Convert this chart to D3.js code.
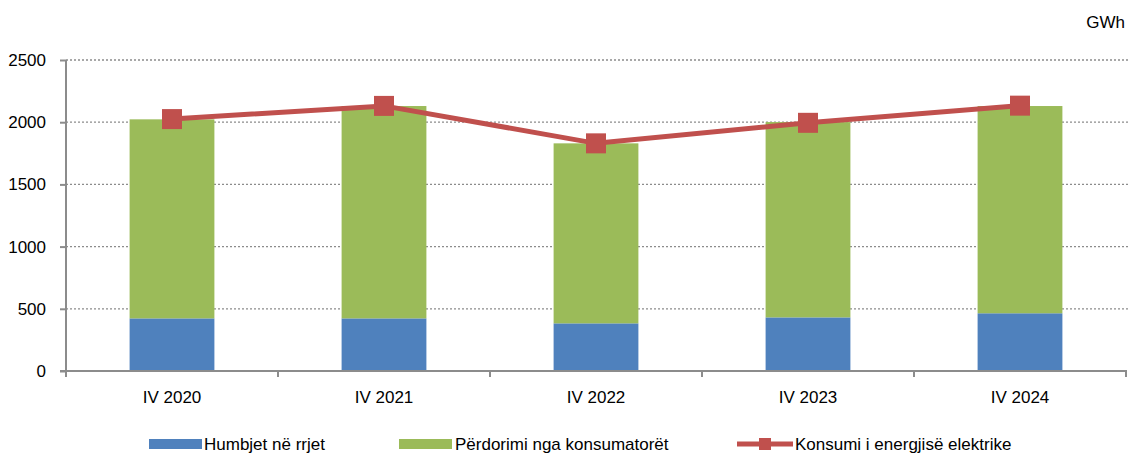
<!DOCTYPE html>
<html>
<head>
<meta charset="utf-8">
<script src="https://cdn.jsdelivr.net/npm/d3@7.9.0/dist/d3.min.js"></script>
<style>
  html, body { margin: 0; padding: 0; background: #fff; }
  svg text { font-family: "Liberation Sans", Arial, sans-serif; fill: #000; }
</style>
</head>
<body>
<div id="chart"></div>
<script>
// ---------------------- Data ----------------------
const quarters = ['IV 2020', 'IV 2021', 'IV 2022', 'IV 2023', 'IV 2024'];
const losses = [423, 423, 383, 431, 464];          // Humbjet në rrjet
const usage = [1600, 1707, 1447, 1570, 1666];      // Përdorimi nga konsumatorët
const consumption = [2025, 2131, 1830, 1995, 2133]; // Konsumi i energjisë elektrike
const yTicks = [0, 500, 1000, 1500, 2000, 2500];
const seriesNames = ['Humbjet në rrjet', 'Përdorimi nga konsumatorët', 'Konsumi i energjisë elektrike'];

const colors = { losses: '#4F81BD', usage: '#9BBB59', line: '#C0504D' };

// ---------------------- Chart ----------------------
const width = 1128;
const height = 457;
const plot = { left: 66, right: 1126, top: 60, bottom: 371 };

const svg = d3.select('#chart')
  .append('svg')
  .attr('width', width)
  .attr('height', height);

const xScale = d3.scaleBand()
  .domain(quarters)
  .range([plot.left, plot.right])
  .paddingInner(0.6)
  .paddingOuter(0.3);

const yScale = d3.scaleLinear()
  .domain([0, 2500])
  .range([plot.bottom, plot.top]);

// grid lines
svg.append('g')
  .selectAll('line')
  .data(yTicks.filter(d => d > 0))
  .join('line')
  .attr('x1', plot.left)
  .attr('x2', width)
  .attr('y1', d => yScale(d))
  .attr('y2', d => yScale(d))
  .attr('stroke', '#8c8c8c')
  .attr('stroke-width', 1.3)
  .attr('stroke-dasharray', '2,2');

// stacked bars
const rows = quarters.map((q, i) => ({ q, losses: losses[i], usage: usage[i] }));
const stack = d3.stack().keys(['losses', 'usage'])(rows);

svg.append('g')
  .selectAll('g')
  .data(stack)
  .join('g')
  .attr('fill', d => colors[d.key])
  .selectAll('rect')
  .data(d => d)
  .join('rect')
  .attr('x', d => xScale(d.data.q))
  .attr('width', xScale.bandwidth())
  .attr('y', d => yScale(d[1]))
  .attr('height', d => yScale(d[0]) - yScale(d[1]));

// y axis
const yAxis = svg.append('g')
  .attr('transform', `translate(${plot.left},0)`)
  .call(d3.axisLeft(yScale).tickValues(yTicks).tickFormat(d3.format('d'))
    .tickSize(6).tickPadding(14).tickSizeOuter(0));
yAxis.select('.domain').remove();
yAxis.append('line')
  .attr('x1', 0).attr('x2', 0)
  .attr('y1', plot.top).attr('y2', plot.bottom + 6)
  .attr('stroke', '#8c8c8c').attr('stroke-width', 2);
yAxis.selectAll('.tick line').attr('stroke', '#8c8c8c').attr('stroke-width', 2);
yAxis.selectAll('.tick text')
  .attr('font-size', 17)
  .style('font-family', '"Liberation Sans", Arial, sans-serif');

// x axis
svg.append('line')
  .attr('x1', plot.left - 6).attr('x2', plot.right + 1)
  .attr('y1', plot.bottom).attr('y2', plot.bottom)
  .attr('stroke', '#8c8c8c').attr('stroke-width', 2);

const step = xScale.step();
svg.append('g')
  .selectAll('line')
  .data(quarters)
  .join('line')
  .attr('x1', (d, i) => plot.left + (i + 1) * step)
  .attr('x2', (d, i) => plot.left + (i + 1) * step)
  .attr('y1', plot.bottom)
  .attr('y2', plot.bottom + 6)
  .attr('stroke', '#8c8c8c').attr('stroke-width', 2);

svg.append('g')
  .selectAll('text')
  .data(quarters)
  .join('text')
  .attr('x', d => xScale(d) + xScale.bandwidth() / 2)
  .attr('y', 403)
  .attr('text-anchor', 'middle')
  .attr('font-size', 17)
  .text(d => d);

// line series
const cx = i => xScale(quarters[i]) + xScale.bandwidth() / 2;
const line = d3.line()
  .x((d, i) => cx(i))
  .y(d => yScale(d));

svg.append('path')
  .datum(consumption)
  .attr('d', line)
  .attr('fill', 'none')
  .attr('stroke', colors.line)
  .attr('stroke-width', 5);

svg.append('g')
  .selectAll('rect')
  .data(consumption)
  .join('rect')
  .attr('x', (d, i) => cx(i) - 10)
  .attr('y', d => yScale(d) - 10)
  .attr('width', 20)
  .attr('height', 20)
  .attr('fill', colors.line);

// unit label
svg.append('text')
  .attr('x', 1125)
  .attr('y', 28)
  .attr('text-anchor', 'end')
  .attr('font-size', 17)
  .text('GWh');

// ---------------------- Legend ----------------------
const legendY = 444;
const legend = svg.append('g');

legend.append('rect')
  .attr('x', 149).attr('y', legendY - 5).attr('width', 53).attr('height', 10)
  .attr('fill', colors.losses);
legend.append('text')
  .attr('x', 204).attr('y', legendY + 6).attr('font-size', 17)
  .text(seriesNames[0]);

legend.append('rect')
  .attr('x', 399).attr('y', legendY - 5).attr('width', 53).attr('height', 10)
  .attr('fill', colors.usage);
legend.append('text')
  .attr('x', 455).attr('y', legendY + 6).attr('font-size', 17)
  .text(seriesNames[1]);

legend.append('line')
  .attr('x1', 737).attr('x2', 793).attr('y1', legendY).attr('y2', legendY)
  .attr('stroke', colors.line).attr('stroke-width', 5);
legend.append('rect')
  .attr('x', 759).attr('y', legendY - 6).attr('width', 12).attr('height', 12)
  .attr('fill', colors.line);
legend.append('text')
  .attr('x', 795).attr('y', legendY + 6).attr('font-size', 17)
  .text(seriesNames[2]);
</script>
</body>
</html>
